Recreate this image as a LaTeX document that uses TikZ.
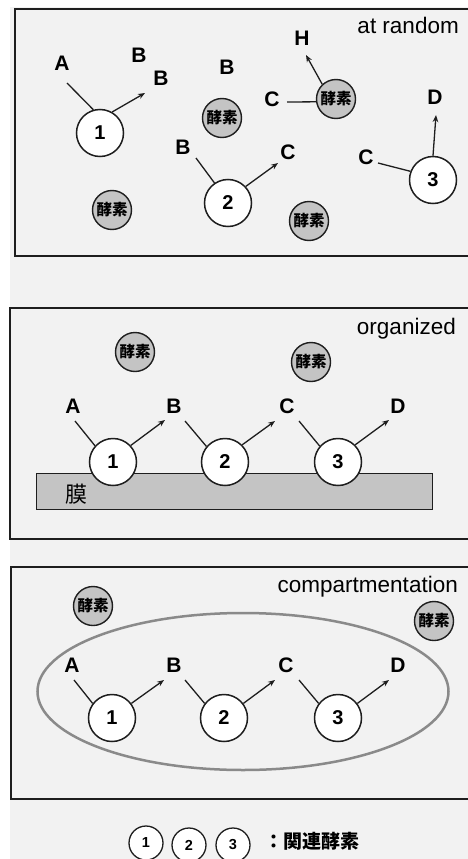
\documentclass[tikz,border=0pt]{standalone}
\usepackage{fontspec}
\setmainfont{Liberation Sans}
\newfontfamily\cjk{Noto Sans CJK JP}
\usetikzlibrary{arrows.meta,shapes.geometric}
\definecolor{bgc}{HTML}{F2F2F2}
\definecolor{enzfill}{HTML}{C4C4C4}
\definecolor{frame}{HTML}{1E1E1E}
\definecolor{ellc}{HTML}{8A8A8A}
\begin{document}
\begin{tikzpicture}[x=1pt,y=-1pt,
 panel/.style={draw=frame,line width=2pt,fill=bgc},
 rxn/.style={circle,draw=frame,fill=white,line width=1.5pt,minimum size=47pt,inner sep=0pt,font=\bfseries\fontsize{20}{20}\selectfont},
 koso/.style={circle,draw=frame,fill=enzfill,line width=1.4pt,minimum size=39pt,inner sep=0pt,font=\cjk\bfseries\fontsize{15.5}{15.5}\selectfont},
 lab/.style={inner sep=0pt,font=\bfseries\fontsize{21}{21}\selectfont},
 ttl/.style={inner sep=0pt,anchor=base east,font=\fontsize{22.5}{22.5}\selectfont},
 ln/.style={draw=frame,line width=1.3pt},
 arr/.style={ln,-{Stealth[length=7pt,width=5.5pt]}},
 leg/.style={rxn,minimum size=34pt,line width=1.3pt,font=\bfseries\fontsize{14.5}{14.5}\selectfont}
 ]
\useasboundingbox (0,0) rectangle (468,859);
\fill[white] (0,0) rectangle (468,859);
\fill[bgc] (10,7) rectangle (468,859);
% ---------- panel 1
\draw[panel] (15,9) rectangle (480,256);
\node[ttl] (t1) at (459,34) {at random};
\node[rxn] (p1c1) at (100,133) {1};
\node[rxn] (p1c2) at (228,203) {2};
\node[rxn] (p1c3) at (433,180) {3};
\node[koso] (p1e1) at (222,118) {酵素};
\node[koso] (p1e2) at (336,99) {酵素};
\node[koso] (p1e3) at (112,210) {酵素};
\node[koso] (p1e4) at (309,221) {酵素};
\node[lab] (p1A) at (62,63) {A};
\node[lab] (p1B1) at (139,55) {B};
\node[lab] (p1B2) at (161,78) {B};
\node[lab] (p1B3) at (227,67) {B};
\node[lab] (p1C1) at (272,99) {C};
\node[lab] (p1H) at (302,38) {H};
\node[lab] (p1D) at (435,97) {D};
\node[lab] (p1C2) at (366,157) {C};
\node[lab] (p1B4) at (183,147) {B};
\node[lab] (p1C3) at (288,152) {C};
\draw[ln] ([shift={(5,20)}]p1A.center) -- (p1c1.106);
\draw[arr] (p1c1.60) -- ([shift={(-16,15)}]p1B2.center);
\draw[ln] ([shift={(15,3)}]p1C1.center) -- (p1e2.188);
\draw[arr] (p1e2.133) -- ([shift={(4,17)}]p1H.center);
\draw[arr] (p1c3.90) -- ([shift={(1,18)}]p1D.center);
\draw[ln] ([shift={(12,6)}]p1C2.center) -- (p1c3.159);
\draw[ln] ([shift={(13,11)}]p1B4.center) -- (p1c2.124);
\draw[arr] (p1c2.43) -- ([shift={(-10,11)}]p1C3.center);
% ---------- panel 2
\draw[panel] (10,308) rectangle (480,539);
\node[ttl] (t2) at (456,334) {organized};
\node[koso] (p2e1) at (135,352) {酵素};
\node[koso] (p2e2) at (311,362) {酵素};
\node[draw=frame,fill=enzfill,line width=1.4pt,minimum width=396pt,minimum height=36pt,inner sep=0pt,anchor=north west] (mem) at (36,473) {};
\node[font=\cjk\fontsize{22}{22}\selectfont,inner sep=0pt] (memlab) at (76,494) {膜};
\node[rxn] (p2c1) at (113,462) {1};
\node[rxn] (p2c2) at (225,462) {2};
\node[rxn] (p2c3) at (338,462) {3};
\node[lab] (p2A) at (73,406) {A};
\node[lab] (p2B) at (174,406) {B};
\node[lab] (p2C) at (287,406) {C};
\node[lab] (p2D) at (398,406) {D};
\draw[ln] ([shift={(2,15)}]p2A.center) -- (p2c1.138);
\draw[arr] (p2c1.43) -- ([shift={(-9,14)}]p2B.center);
\draw[ln] ([shift={(11,15)}]p2B.center) -- (p2c2.140);
\draw[arr] (p2c2.45) -- ([shift={(-12,15)}]p2C.center);
\draw[ln] ([shift={(12,15)}]p2C.center) -- (p2c3.139);
\draw[arr] (p2c3.45) -- ([shift={(-9,14)}]p2D.center);
% ---------- panel 3
\draw[panel] (11,567) rectangle (480,799);
\node[ttl] (t3) at (458,592) {compartmentation};
\node[ellipse,draw=ellc,line width=2.5pt,minimum width=411pt,minimum height=157pt,inner sep=0pt] (cell) at (243,691.5) {};
\node[koso] (p3e1) at (93,606) {酵素};
\node[koso] (p3e2) at (434,621) {酵素};
\node[rxn] (p3c1) at (112,718) {1};
\node[rxn] (p3c2) at (224,718) {2};
\node[rxn] (p3c3) at (338,718) {3};
\node[lab] (p3A) at (72,665) {A};
\node[lab] (p3B) at (174,665) {B};
\node[lab] (p3C) at (286,665) {C};
\node[lab] (p3D) at (398,665) {D};
\draw[ln] ([shift={(2,15)}]p3A.center) -- (p3c1.143);
\draw[arr] (p3c1.37) -- ([shift={(-10,15)}]p3B.center);
\draw[ln] ([shift={(11,15)}]p3B.center) -- (p3c2.143);
\draw[arr] (p3c2.37) -- ([shift={(-11,15)}]p3C.center);
\draw[ln] ([shift={(13,15)}]p3C.center) -- (p3c3.143);
\draw[arr] (p3c3.37) -- ([shift={(-9,15)}]p3D.center);
% ---------- legend
\node[leg] (l1) at (146,843) {1};
\node[leg] (l2) at (189,845) {2};
\node[leg] (l3) at (233,845) {3};
\node[anchor=west,inner sep=0pt,font=\cjk\bfseries\fontsize{19}{19}\selectfont] (legtxt) at (264,841) {：関連酵素};
\end{tikzpicture}
\end{document}
